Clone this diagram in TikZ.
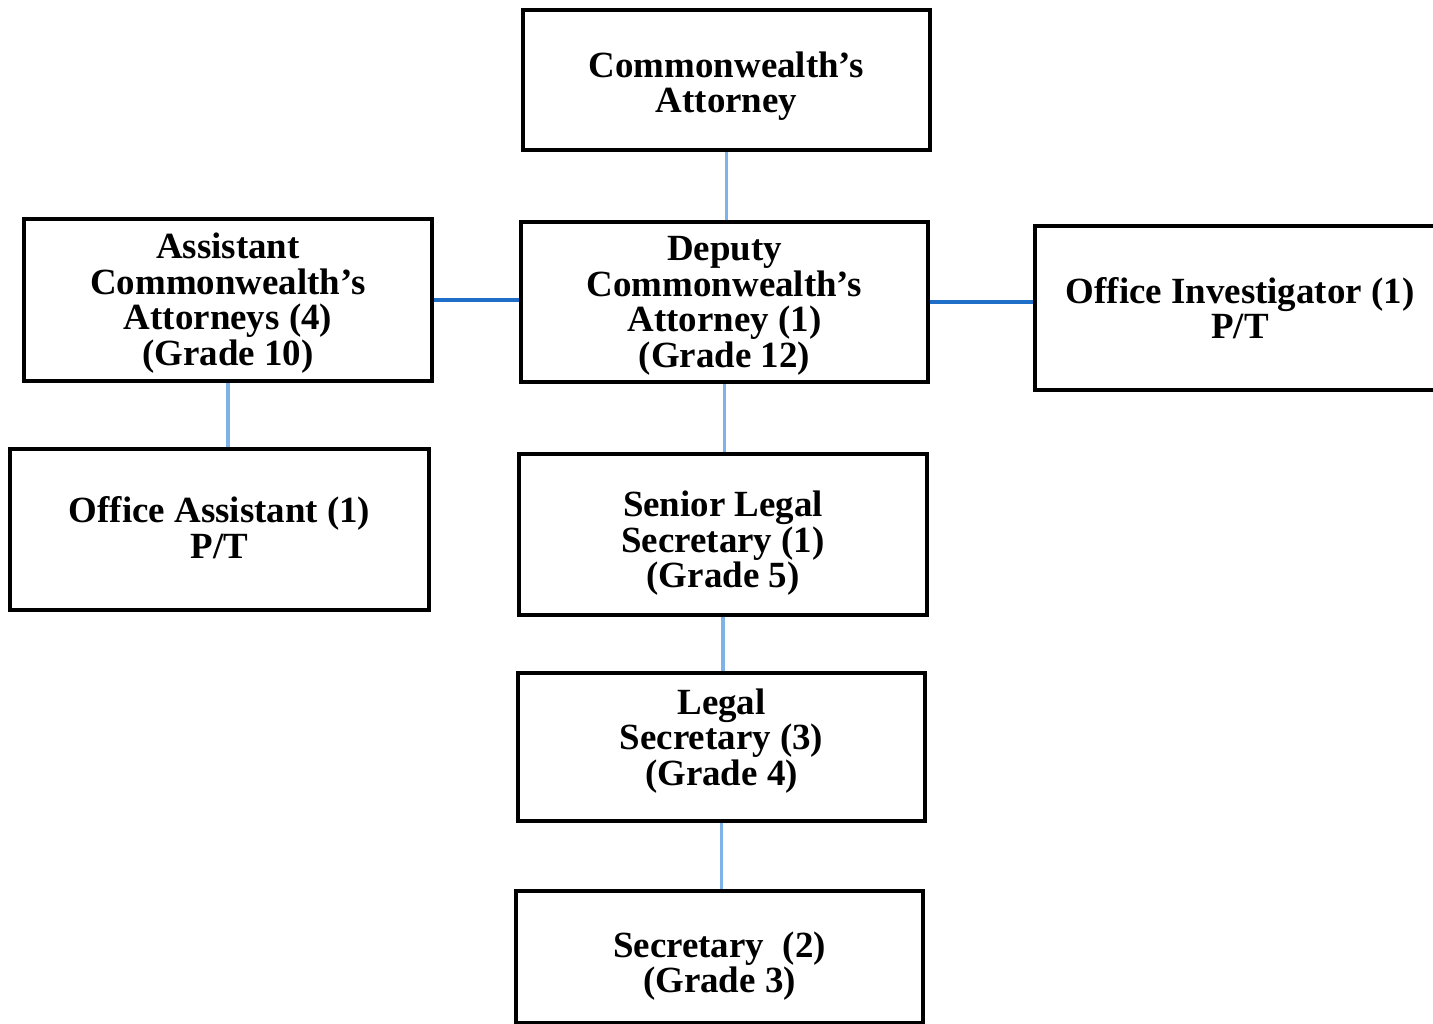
\documentclass[tikz,border=0pt]{standalone}
\usepackage{fontspec}
\setmainfont{Liberation Serif}
\definecolor{lightconn}{HTML}{7DB3E8}
\definecolor{darkconn}{HTML}{1F6FC8}
\begin{document}
\begin{tikzpicture}[x=0.01cm,y=-0.01cm,
  box/.style={draw=black,line width=1pt,fill=white,inner sep=0pt},
  txt/.style={align=center,inner sep=0pt,font=\fontsize{10.5}{10.1}\selectfont\bfseries},
  vconn/.style={draw=lightconn,line width=1.1pt},
  hconn/.style={draw=darkconn,line width=1.1pt}]
\clip (0,0) rectangle (1433,1023);
\fill[white] (0,0) rectangle (1433,1023);
\node[box,minimum width=4.07cm,minimum height=1.40cm] (ca) at (726.5,80) {};
\node[box,minimum width=4.07cm,minimum height=1.60cm] (dep) at (724.5,302) {};
\node[box,minimum width=4.08cm,minimum height=1.62cm] (asst) at (228,300) {};
\node[box,minimum width=4.10cm,minimum height=1.64cm] (oi) at (1240,308) {};
\node[box,minimum width=4.19cm,minimum height=1.61cm] (oa) at (219.5,529.5) {};
\node[box,minimum width=4.08cm,minimum height=1.61cm] (sls) at (723,534.5) {};
\node[box,minimum width=4.07cm,minimum height=1.48cm] (ls) at (721.5,747) {};
\node[box,minimum width=4.07cm,minimum height=1.32cm] (sec) at (719.5,957) {};
\node[txt] (ca-t) at ([yshift=-0.06cm]ca.center) {Commonwealth's\\Attorney};
\node[txt] (dep-t) at ([yshift=-0.04cm]dep.center) {Deputy\\Commonwealth's\\Attorney (1)\\(Grade 12)};
\node[txt] (asst-t) at ([yshift=-0.03cm]asst.center) {Assistant\\Commonwealth's\\Attorneys (4)\\(Grade 10)};
\node[txt] (oi-t) at (oi.center) {Office Investigator (1)\\P/T};
\node[txt] (oa-t) at ([yshift=0.02cm]oa.center) {Office Assistant (1)\\P/T};
\node[txt] (sls-t) at ([yshift=-0.09cm]sls.center) {Senior Legal\\Secretary (1)\\(Grade 5)};
\node[txt] (ls-t) at ([yshift=0.06cm]ls.center) {Legal\\Secretary (3)\\(Grade 4)};
\node[txt] (sec-t) at ([yshift=-0.09cm]sec.center) {Secretary~~(2)\\(Grade 3)};
\draw[vconn] (ca.south) -- (ca.south |- dep.north);
\draw[hconn] (asst.east) -- (asst.east -| dep.west);
\draw[hconn] (dep.east) -- (dep.east -| oi.west);
\draw[vconn] (asst.south) -- (asst.south |- oa.north);
\draw[vconn] (dep.south) -- (dep.south |- sls.north);
\draw[vconn] (sls.south) -- (sls.south |- ls.north);
\draw[vconn] (ls.south) -- (ls.south |- sec.north);
\end{tikzpicture}
\end{document}
